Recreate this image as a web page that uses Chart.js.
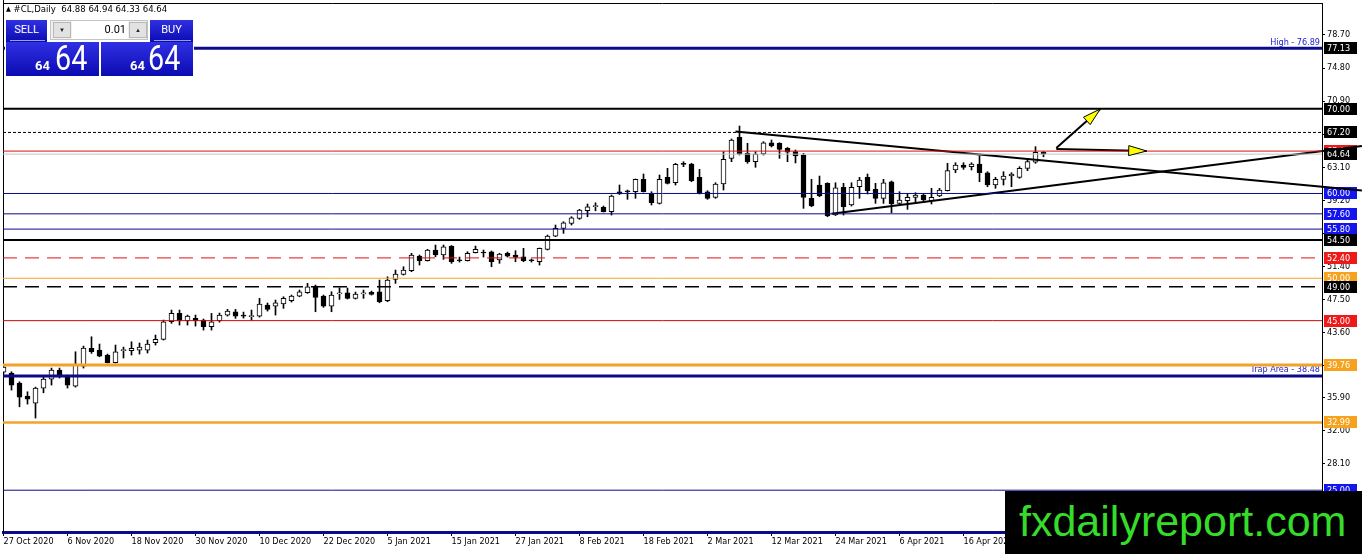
<!DOCTYPE html>
<html>
<head>
<meta charset="utf-8">
<script src="https://cdn.jsdelivr.net/npm/chart.js@4.4.1/dist/chart.umd.min.js"></script>
<style>
  html, body { margin: 0; padding: 0; background: #fff; }
  #wrap { position: relative; width: 1362px; height: 554px; overflow: hidden; font-family: "DejaVu Sans Condensed", "DejaVu Sans", sans-serif; }
  #chart { position: absolute; left: 0; top: 0; }
  #hdr { position: absolute; left: 6px; top: 3px; font-size: 9.5px; color: #000; white-space: pre; line-height: 12px; }
  #hdr .tri { font-size: 7px; vertical-align: 1px; }
  #panel { position: absolute; left: 5px; top: 19px; width: 189px; height: 58px; background: #fff; font-family: Roboto, sans-serif; }
  .blue { position: absolute; background: linear-gradient(to bottom, #3030e4, #0b0bb2); color: #fff; }
  .btn { top: 1px; height: 22px; font-size: 11px; line-height: 20px; text-align: center; }
  .btn .sep { position: absolute; left: 4px; right: 2px; bottom: 1px; height: 1px; background: #9c9cf2; }
  .sell { left: 1px; width: 41px; }
  .buy { left: 145px; width: 43px; }
  .qty { position: absolute; left: 45px; top: 1px; width: 98px; height: 20px; background: #f0f0f0; border: 1px solid #c4c4c4; box-sizing: border-box; }
  .arr { position: absolute; top: 1px; width: 18px; height: 16px; background: #e2e2e2; border: 1px solid #b8b8b8; box-sizing: border-box; font-size: 6px; line-height: 14px; text-align: center; color: #222; }
  .dn { left: 2px; }
  .up { left: 78px; }
  .fld { position: absolute; left: 21px; top: 0px; width: 56px; height: 18px; background: #fff; font-size: 11px; line-height: 18px; text-align: right; padding-right: 2px; box-sizing: border-box; color: #000; }
  .px { top: 23px; height: 34px; }
  .sellpx { left: 1px; width: 93px; }
  .buypx { left: 96px; width: 92px; }
  .sm { position: absolute; bottom: 4px; font-size: 13px; font-weight: bold; line-height: 13px; }
  .big { position: absolute; bottom: 0px; font-size: 35px; line-height: 35px; transform: scaleX(0.82); transform-origin: left bottom; }
  .sellpx .sm { left: 29px; }
  .sellpx .big { left: 49px; }
  .buypx .sm { left: 29px; }
  .buypx .big { left: 47px; }
  #logo { position: absolute; left: 1005px; top: 491px; width: 357px; height: 63px; background: #000; color: #36dc2a; font-family: "Liberation Sans", Arial, sans-serif; font-size: 43px; line-height: 60px; padding-left: 14px; box-sizing: border-box; }
</style>
</head>
<body>
<div id="wrap">
  <canvas id="chart" width="1362" height="554"></canvas>
  <div id="hdr"><span class="tri">▲</span> #CL,Daily  64.88 64.94 64.33 64.64</div>
  <div id="panel">
    <div class="blue btn sell">SELL<div class="sep"></div></div>
    <div class="qty"><div class="arr dn">▼</div><div class="fld">0.01</div><div class="arr up">▲</div></div>
    <div class="blue btn buy">BUY<div class="sep"></div></div>
    <div class="blue px sellpx"><span class="sm">64</span><span class="big">64</span></div>
    <div class="blue px buypx"><span class="sm">64</span><span class="big">64</span></div>
  </div>
  <div id="logo">fxdailyreport.com</div>
</div>
<script>
// Time axis: one label every 8 daily bars
const tickLabels = ['27 Oct 2020', '6 Nov 2020', '18 Nov 2020', '30 Nov 2020', '10 Dec 2020', '22 Dec 2020',
    '5 Jan 2021', '15 Jan 2021', '27 Jan 2021', '8 Feb 2021', '18 Feb 2021', '2 Mar 2021',
    '12 Mar 2021', '24 Mar 2021', '6 Apr 2021', '16 Apr 2021'];
const barsPerLabel = 8;

// Price axis ticks
const yTicks = [78.70, 74.80, 70.90, 67.00, 63.10, 59.20, 55.30, 51.40, 47.50, 43.60, 39.70, 35.90, 32.00, 28.10, 24.20];

// Daily candles
const opens = [38.93, 38.81, 37.64, 36.10, 35.28, 37.05, 38.11, 39.17, 38.38, 37.28,
    39.64, 41.73, 41.53, 40.94, 40.03, 41.47, 41.45, 41.53, 41.53, 42.39,
    42.79, 44.87, 45.86, 44.99, 45.27, 45.07, 44.28, 44.99, 45.66, 46.05,
    45.60, 45.48, 45.54, 46.84, 46.72, 46.96, 47.35, 47.90, 48.29, 49.08,
    47.90, 46.72, 48.16, 48.29, 47.63, 48.16, 48.34, 48.41, 47.35, 49.87,
    50.46, 50.89, 52.62, 52.07, 53.33, 52.74, 53.80, 52.09, 52.07, 53.01,
    53.01, 53.13, 52.15, 52.94, 52.74, 52.54, 52.11, 51.95, 53.41, 54.98,
    55.89, 56.48, 57.07, 57.96, 58.46, 58.37, 57.85, 60.21, 60.23, 60.21,
    61.67, 59.94, 58.84, 61.91, 61.27, 63.48, 63.48, 61.91, 60.21, 59.55,
    61.12, 64.15, 66.63, 64.74, 63.75, 64.66, 65.99, 65.92, 65.33, 64.93,
    64.54, 59.43, 61.00, 61.20, 57.46, 60.73, 58.64, 60.80, 61.91, 60.49,
    59.43, 61.39, 58.84, 59.15, 59.55, 59.82, 59.15, 59.70, 60.33, 62.77,
    63.36, 63.17, 63.48, 62.45, 61.00, 61.67, 62.06, 61.91, 62.97, 63.68,
    64.88];
const highs = [39.76, 38.97, 37.79, 36.61, 37.16, 38.38, 39.41, 39.41, 38.58, 41.33,
    42.00, 43.10, 42.24, 41.06, 42.12, 41.88, 42.51, 42.36, 42.71, 43.30,
    45.07, 46.25, 46.25, 45.66, 45.66, 45.19, 45.86, 45.90, 46.33, 46.33,
    46.01, 46.25, 47.63, 47.08, 47.43, 47.82, 48.02, 48.61, 49.40, 49.20,
    48.02, 48.41, 48.88, 48.85, 48.37, 48.61, 48.49, 49.79, 50.18, 50.97,
    51.36, 52.94, 52.74, 53.41, 53.92, 53.92, 53.86, 52.50, 53.13, 53.80,
    53.33, 53.21, 52.94, 53.09, 53.25, 53.53, 52.27, 53.57, 55.10, 56.28,
    56.67, 57.26, 58.13, 58.76, 58.90, 58.52, 59.82, 61.00, 60.41, 61.71,
    62.30, 60.21, 62.18, 62.97, 63.56, 63.75, 63.56, 62.85, 60.33, 61.27,
    64.93, 66.43, 67.96, 65.92, 64.93, 66.11, 66.31, 65.99, 65.43, 65.13,
    64.74, 61.67, 62.06, 61.27, 61.27, 61.20, 61.27, 61.91, 62.30, 61.20,
    61.67, 61.47, 60.21, 60.02, 60.09, 59.94, 60.61, 60.61, 63.56, 63.63,
    63.63, 63.63, 64.42, 62.57, 61.91, 62.57, 62.45, 63.16, 64.15, 65.52,
    64.94];
const lows = [38.70, 36.81, 34.84, 35.16, 33.51, 36.49, 37.40, 38.23, 37.05, 37.16,
    39.41, 41.14, 40.74, 40.00, 40.00, 40.59, 40.94, 41.06, 41.18, 42.12,
    42.71, 44.68, 44.48, 44.48, 44.36, 43.89, 43.89, 44.83, 45.54, 45.27,
    45.30, 45.07, 45.42, 46.13, 45.66, 46.45, 47.19, 47.82, 48.22, 46.05,
    46.57, 46.05, 47.51, 47.55, 47.55, 47.63, 48.02, 47.11, 47.23, 49.40,
    50.38, 50.77, 51.56, 52.03, 52.54, 52.23, 51.76, 51.91, 52.03, 52.98,
    52.50, 51.36, 51.76, 52.50, 51.95, 51.95, 51.91, 51.56, 53.33, 54.90,
    55.30, 56.28, 56.95, 57.26, 57.96, 57.81, 57.46, 59.88, 59.31, 59.43,
    60.17, 58.64, 58.76, 61.12, 61.00, 63.16, 61.39, 59.94, 59.31, 59.43,
    60.41, 63.75, 64.54, 63.56, 63.09, 64.54, 65.48, 64.15, 63.75, 63.60,
    58.25, 58.44, 59.62, 57.26, 57.40, 57.46, 58.52, 59.43, 59.94, 58.84,
    58.84, 57.73, 58.76, 58.13, 59.03, 59.15, 58.76, 59.62, 60.29, 62.45,
    62.85, 62.77, 61.39, 60.80, 60.61, 61.00, 60.80, 61.79, 62.69, 63.56,
    64.33];
const closes = [39.52, 37.40, 35.98, 35.75, 37.05, 38.11, 39.17, 38.58, 37.40, 39.76,
    41.77, 41.33, 40.82, 40.03, 41.33, 41.53, 41.73, 41.88, 42.24, 42.79,
    44.87, 45.86, 44.99, 45.54, 44.99, 44.28, 44.87, 45.66, 46.13, 45.54,
    45.54, 45.54, 46.96, 46.33, 47.11, 47.63, 47.90, 48.41, 49.00, 47.75,
    46.72, 48.02, 48.22, 47.63, 48.14, 48.22, 48.10, 47.23, 49.79, 50.50,
    50.97, 52.74, 52.07, 53.33, 52.74, 53.72, 51.95, 52.07, 52.94, 53.41,
    52.98, 51.95, 52.86, 52.62, 52.47, 52.07, 52.07, 53.53, 54.98, 55.89,
    56.55, 57.14, 58.05, 58.44, 58.52, 57.85, 59.70, 59.94, 60.21, 61.67,
    60.21, 58.92, 61.67, 61.20, 63.44, 63.44, 61.51, 60.02, 59.43, 61.12,
    64.03, 66.31, 64.66, 63.75, 64.66, 65.99, 65.60, 65.21, 64.86, 64.42,
    59.55, 58.52, 59.70, 57.34, 60.68, 58.44, 60.73, 61.59, 60.33, 59.43,
    61.27, 58.76, 59.23, 59.55, 59.82, 59.23, 59.55, 60.41, 62.69, 63.36,
    63.09, 63.48, 62.45, 61.00, 61.67, 62.06, 62.30, 62.97, 63.75, 64.86,
    64.64];

// Horizontal price levels
const levels = [77.13, 70.00, 67.20, 65.00, 64.64, 60.00, 57.60, 55.80, 54.50, 52.40, 50.00, 49.00, 45.00, 39.76, 38.48, 32.99, 25.00];
const levelNotes = { '77.13': 'High - 76.89', '38.48': 'Trap Area - 38.48' };

// Trend lines and arrows: [bar index, price] pairs
const trendLines = [
    [[91.5, 67.30], [169.8, 60.35]],
    [[103.5, 57.60], [169.8, 65.60]]
];
const arrows = [
    [[131.6, 65.37], [137.1, 69.97]],
    [[131.6, 65.25], [142.9, 65.01]]
];

// Styles
const navy = '#0b0b8a';
const black = '#000000';
const red = '#e01010';
const darkRed = '#c80a0a';
const orange = '#f2a22a';
const tagBlue = '#1414ee';
const tagRed = '#ee1a1a';
const tagOrange = '#f7a21d';
const levelLook = [
    { color: navy, width: 3, tag: black },
    { color: black, width: 2, tag: black },
    { color: black, width: 1, dash: [3, 2], tag: black },
    { color: red, width: 1, tag: tagRed },
    { color: '#c4c4c4', width: 1, tag: black },
    { color: navy, width: 1, tag: tagBlue },
    { color: navy, width: 1, tag: tagBlue },
    { color: navy, width: 1, tag: tagBlue },
    { color: black, width: 2, tag: black },
    { color: red, width: 1, dash: [14, 8], tag: tagRed },
    { color: orange, width: 1, tag: tagOrange },
    { color: black, width: 1.5, dash: [14, 8], tag: black },
    { color: darkRed, width: 1, tag: tagRed },
    { color: orange, width: 3, tag: tagOrange },
    { color: navy, width: 3, tag: null },
    { color: orange, width: 2.5, tag: tagOrange },
    { color: navy, width: 1, tag: tagBlue }
];

const xMin = -0.0625;
const xMax = 164.8125;
const fontFamily = '"DejaVu Sans Condensed", "DejaVu Sans", sans-serif';

const bodies = opens.map((o, i) => ({ x: i, y: [o, closes[i]] }));
const wicks = lows.map((l, i) => ({ x: i, y: [l, highs[i]] }));

const datasets = [];
levels.forEach((v, k) => {
    const look = levelLook[k];
    datasets.push({
        type: 'line',
        data: [{ x: xMin, y: v }, { x: xMax, y: v }],
        borderColor: look.color,
        borderWidth: look.width,
        borderDash: look.dash || [],
        pointRadius: 0,
        order: 0
    });
});
trendLines.concat(arrows).forEach(seg => {
    datasets.push({
        type: 'line',
        data: seg.map(p => ({ x: p[0], y: p[1] })),
        borderColor: black,
        borderWidth: 2,
        pointRadius: 0,
        clip: false,
        order: 0
    });
});
datasets.push({
    type: 'bar',
    data: bodies,
    backgroundColor: bodies.map(b => b.y[1] >= b.y[0] ? '#ffffff' : '#000000'),
    borderColor: black,
    borderWidth: 1,
    borderSkipped: false,
    barThickness: 5,
    minBarLength: 1,
    grouped: false,
    order: 1
});
datasets.push({
    type: 'bar',
    data: wicks,
    backgroundColor: black,
    borderWidth: 0,
    barThickness: 1,
    grouped: false,
    order: 2
});

// Price tags on the axis, notes, frame
const tagPlugin = {
    id: 'tags',
    beforeDatasetsDraw(chart) {
        const { ctx, chartArea, scales } = chart;
        ctx.save();
        ctx.strokeStyle = black;
        ctx.lineWidth = 1;
        ctx.beginPath();
        ctx.moveTo(chartArea.left + 0.5, 0);
        ctx.lineTo(chartArea.left + 0.5, chartArea.bottom);
        ctx.moveTo(chartArea.left, chartArea.top + 0.5);
        ctx.lineTo(chartArea.right, chartArea.top + 0.5);
        ctx.stroke();

        ctx.font = '9px ' + fontFamily;
        ctx.textBaseline = 'middle';
        levels.forEach((v, k) => {
            const y = scales.y.getPixelForValue(v);
            const tag = levelLook[k].tag;
            if (tag) {
                ctx.fillStyle = tag;
                ctx.fillRect(chartArea.right + 2, Math.round(y) - 6, 33, 12);
                ctx.fillStyle = '#ffffff';
                ctx.textAlign = 'left';
                ctx.fillText(v.toFixed(2), chartArea.right + 5, Math.round(y) + 0.5);
            }
            const note = levelNotes[v.toFixed(2)];
            if (note) {
                ctx.fillStyle = '#1a1ac8';
                ctx.textAlign = 'right';
                ctx.fillText(note, chartArea.right - 2, y - 6);
            }
        });
        ctx.restore();
    },
    afterDatasetsDraw(chart) {
        const { ctx, scales } = chart;
        ctx.save();
        arrows.forEach(seg => {
            const x0 = scales.x.getPixelForValue(seg[0][0]);
            const y0 = scales.y.getPixelForValue(seg[0][1]);
            const x1 = scales.x.getPixelForValue(seg[1][0]);
            const y1 = scales.y.getPixelForValue(seg[1][1]);
            const a = Math.atan2(y1 - y0, x1 - x0);
            const len = 18, half = 5;
            const bx = x1 - len * Math.cos(a), by = y1 - len * Math.sin(a);
            ctx.beginPath();
            ctx.moveTo(x1, y1);
            ctx.lineTo(bx - half * Math.sin(a), by + half * Math.cos(a));
            ctx.lineTo(bx + half * Math.sin(a), by - half * Math.cos(a));
            ctx.closePath();
            ctx.fillStyle = '#ffff00';
            ctx.fill();
            ctx.strokeStyle = black;
            ctx.lineWidth = 1;
            ctx.stroke();
        });
        ctx.restore();
    }
};

new Chart(document.getElementById('chart'), {
    type: 'bar',
    data: { datasets },
    plugins: [tagPlugin],
    options: {
        responsive: false,
        animation: false,
        events: [],
        layout: { padding: { left: 3, top: 3, right: 0, bottom: 0 } },
        plugins: { legend: { display: false }, tooltip: { enabled: false } },
        scales: {
            x: {
                type: 'linear',
                offset: false,
                min: xMin,
                max: xMax,
                afterBuildTicks: scale => {
                    scale.ticks = tickLabels.map((_, k) => ({ value: k * barsPerLabel }));
                },
                afterFit: scale => {
                    scale.height = 22;
                    scale.paddingLeft = 0;
                    scale.paddingRight = 0;
                },
                ticks: {
                    autoSkip: false,
                    maxRotation: 0,
                    align: 'start',
                    padding: 0,
                    color: black,
                    font: { family: fontFamily, size: 9 },
                    callback: v => tickLabels[Math.round(v / barsPerLabel)]
                },
                grid: { offset: false, drawOnChartArea: false, drawTicks: true, tickLength: 4, color: black },
                border: { color: navy, width: 3 }
            },
            y: {
                position: 'right',
                min: 20.07,
                max: 82.47,
                afterBuildTicks: scale => {
                    scale.ticks = yTicks.map(v => ({ value: v }));
                },
                afterFit: scale => {
                    scale.width = 40;
                    scale.paddingTop = 0;
                    scale.paddingBottom = 0;
                },
                ticks: {
                    autoSkip: false,
                    padding: 2,
                    color: black,
                    font: { family: fontFamily, size: 9 },
                    callback: v => v.toFixed(2)
                },
                grid: { drawOnChartArea: false, drawTicks: true, tickLength: 3, color: black },
                border: { color: black, width: 1 }
            }
        }
    }
});
</script>
</body>
</html>
